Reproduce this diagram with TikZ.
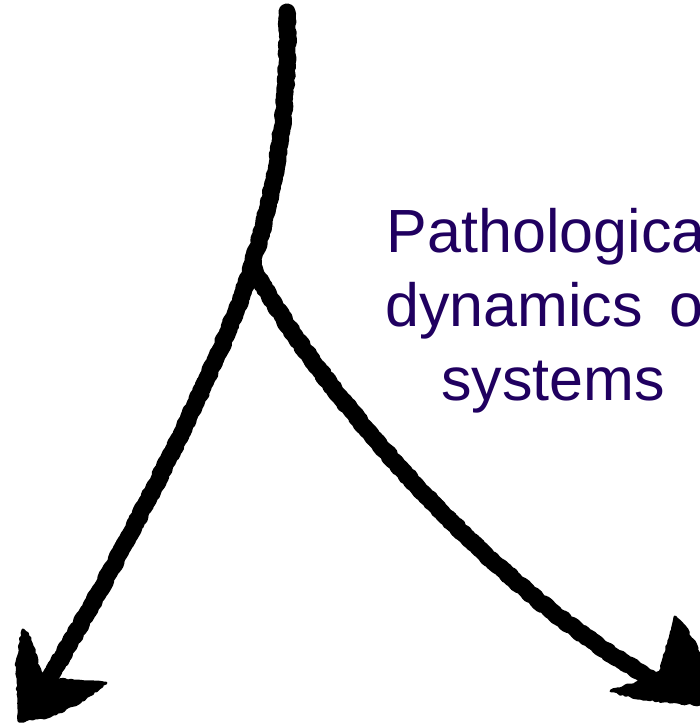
\documentclass[tikz,border=0pt]{standalone}
\usepackage{fontspec}
\setmainfont{Liberation Sans}
\usetikzlibrary{decorations.pathmorphing}
\definecolor{textindigo}{RGB}{32,0,96}
\tikzset{
  chalk/.style={draw=black, line width=17pt, line cap=round, line join=round,
    decorate, decoration={random steps, segment length=3pt, amplitude=1pt}},
  headfill/.style={fill=black, draw=black, line width=3pt, line join=round,
    decorate, decoration={random steps, segment length=3pt, amplitude=1pt}},
  labeltext/.style={text=textindigo, align=center, font=\fontsize{61}{74}\selectfont, inner sep=0pt}
}
\begin{document}
\begin{tikzpicture}[x=1pt,y=-1pt]
\useasboundingbox (0,0) rectangle (700,725);
\clip (0,0) rectangle (700,725);
\fill[white] (0,0) rectangle (700,725);
\coordinate (top) at (287,12);
\coordinate (branch) at (252,265);
\coordinate (lend) at (42,690);
\coordinate (rend) at (672,690);
\node[labeltext, anchor=base] (label) at (553,400) {Pathological\\dynamics\hspace{10pt} of\\systems};
\draw[chalk] (top) .. controls (290,120) and (272,200) .. (branch);
\draw[chalk] (branch) .. controls (232,340) and (125,555) .. (lend);
\draw[chalk] (branch) .. controls (290,345) and (470,585) .. (rend);
% left arrowhead
\path[headfill] (19,721) -- (17,662) -- (23,630) -- (30,638) -- (38,666) -- (44,678)
  -- (68,681) -- (106,683) -- (80,702) -- (50,716) -- cycle;
% right arrowhead
\path[headfill] (675,617) -- (683,625) -- (697,648) -- (712,700) -- (700,704) -- (670,702)
  -- (640,698) -- (611,691) -- (640,682) -- (660,672) -- (667,650) -- cycle;
\end{tikzpicture}
\end{document}
